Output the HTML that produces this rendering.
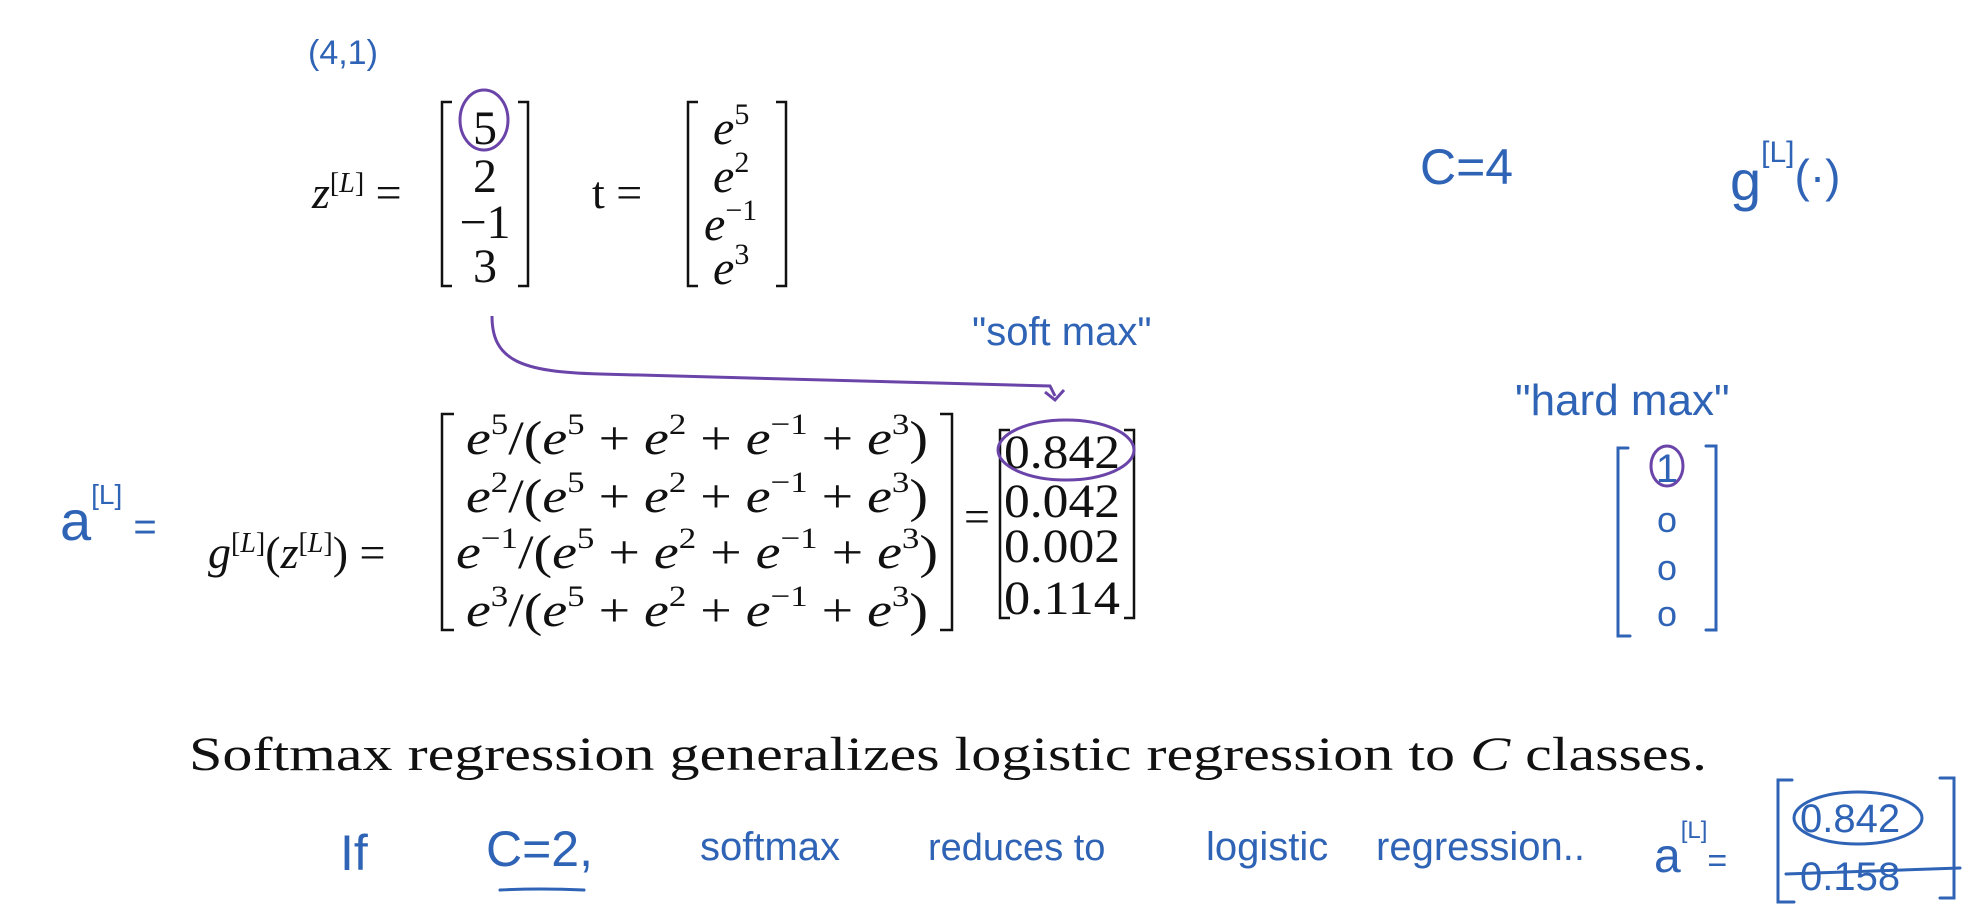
<!DOCTYPE html>
<html><head><meta charset="utf-8"><style>
html,body{margin:0;padding:0;background:#fff;width:1980px;height:922px;overflow:hidden}
svg{display:block}
.m{font-family:"Liberation Serif",serif;fill:#111}
.i{font-style:italic}
.h{font-family:"Liberation Sans",sans-serif;fill:#2f63b5}
.hs{stroke:#2f63b5;fill:none;stroke-width:3;stroke-linecap:round}
.br{stroke:#111;fill:none;stroke-width:2.5}
</style></head><body>
<svg width="1980" height="922" viewBox="0 0 1980 922" xmlns="http://www.w3.org/2000/svg">
<rect width="1980" height="922" fill="#fff"/>
<text class="h" x="308" y="64" font-size="34">(4,1)</text>

<g>
<text class="m" x="312" y="208" font-size="46"><tspan class="i">z</tspan><tspan font-size="28" dy="-16">[</tspan><tspan font-size="28" class="i">L</tspan><tspan font-size="28">]</tspan><tspan dy="16"> =</tspan></text>
<path class="br" d="M452 102 H442 V286 H452 M518 102 H528 V286 H518"/>
<text class="m" font-size="48" text-anchor="middle" x="485" y="144">5</text>
<text class="m" font-size="48" text-anchor="middle" x="485" y="192">2</text>
<text class="m" font-size="48" text-anchor="middle" x="485" y="238">−1</text>
<text class="m" font-size="48" text-anchor="middle" x="485" y="282">3</text>
<ellipse cx="484" cy="120" rx="24" ry="30" fill="none" stroke="#6a44a8" stroke-width="3"/>
</g>

<g>
<text class="m" x="592" y="208" font-size="46">t =</text>
<path class="br" d="M698 102 H688 V286 H698 M776 102 H786 V286 H776"/>
<text class="m i" font-size="48" x="713" y="144">e<tspan font-size="30" dy="-20" font-style="normal">5</tspan></text>
<text class="m i" font-size="48" x="713" y="192">e<tspan font-size="30" dy="-20" font-style="normal">2</tspan></text>
<text class="m i" font-size="48" x="704" y="240">e<tspan font-size="30" dy="-20" font-style="normal">−1</tspan></text>
<text class="m i" font-size="48" x="713" y="284">e<tspan font-size="30" dy="-20" font-style="normal">3</tspan></text>
</g>

<text class="h" x="1420" y="184" font-size="50">C=4</text>
<text class="h" x="1730" y="200" font-size="56">g<tspan font-size="30" dy="-38">[L]</tspan><tspan dy="30" font-size="46">(·)</tspan></text>

<text class="h" x="972" y="345" font-size="40">"soft max"</text>
<path d="M492 316 C492 360 520 372 600 374 L1050 386 L1055 396 M1045 392 L1055 400 L1064 390" stroke="#6a44a8" stroke-width="3" fill="none"/>

<text class="h" x="1515" y="415" font-size="44">"hard max"</text>
<g>
<path class="hs" d="M1628 448 H1618 V636 H1630 M1706 446 H1716 V630 H1706"/>
<text class="h" x="1667" y="482" font-size="40" text-anchor="middle">1</text>
<ellipse cx="1667" cy="466" rx="16" ry="20" fill="none" stroke="#6a44a8" stroke-width="3"/>
<text class="h" x="1667" y="532" font-size="36" text-anchor="middle">o</text>
<text class="h" x="1667" y="580" font-size="36" text-anchor="middle">o</text>
<text class="h" x="1667" y="626" font-size="36" text-anchor="middle">o</text>
</g>

<text class="h" x="60" y="540" font-size="56">a<tspan font-size="28" dy="-36">[L]</tspan><tspan dy="36" font-size="40"> =</tspan></text>
<text class="m" x="208" y="568" font-size="46"><tspan class="i">g</tspan><tspan font-size="28" dy="-16">[</tspan><tspan font-size="28" class="i">L</tspan><tspan font-size="28">]</tspan><tspan dy="16">(</tspan><tspan class="i">z</tspan><tspan font-size="28" dy="-16">[</tspan><tspan font-size="28" class="i">L</tspan><tspan font-size="28">]</tspan><tspan dy="16">) =</tspan></text>

<g>
<path class="br" d="M454 414 H442 V630 H454 M940 414 H952 V630 H940"/>
<text class="m" font-size="48" x="466" y="454" textLength="462" lengthAdjust="spacingAndGlyphs"><tspan class="i">e</tspan><tspan font-size="30" dy="-20">5</tspan><tspan dy="20">/(</tspan><tspan class="i">e</tspan><tspan font-size="30" dy="-20">5</tspan><tspan dy="20"> + </tspan><tspan class="i">e</tspan><tspan font-size="30" dy="-20">2</tspan><tspan dy="20"> + </tspan><tspan class="i">e</tspan><tspan font-size="30" dy="-20">−1</tspan><tspan dy="20"> + </tspan><tspan class="i">e</tspan><tspan font-size="30" dy="-20">3</tspan><tspan dy="20">)</tspan></text>
<text class="m" font-size="48" x="466" y="512" textLength="462" lengthAdjust="spacingAndGlyphs"><tspan class="i">e</tspan><tspan font-size="30" dy="-20">2</tspan><tspan dy="20">/(</tspan><tspan class="i">e</tspan><tspan font-size="30" dy="-20">5</tspan><tspan dy="20"> + </tspan><tspan class="i">e</tspan><tspan font-size="30" dy="-20">2</tspan><tspan dy="20"> + </tspan><tspan class="i">e</tspan><tspan font-size="30" dy="-20">−1</tspan><tspan dy="20"> + </tspan><tspan class="i">e</tspan><tspan font-size="30" dy="-20">3</tspan><tspan dy="20">)</tspan></text>
<text class="m" font-size="48" x="456" y="568" textLength="482" lengthAdjust="spacingAndGlyphs"><tspan class="i">e</tspan><tspan font-size="30" dy="-20">−1</tspan><tspan dy="20">/(</tspan><tspan class="i">e</tspan><tspan font-size="30" dy="-20">5</tspan><tspan dy="20"> + </tspan><tspan class="i">e</tspan><tspan font-size="30" dy="-20">2</tspan><tspan dy="20"> + </tspan><tspan class="i">e</tspan><tspan font-size="30" dy="-20">−1</tspan><tspan dy="20"> + </tspan><tspan class="i">e</tspan><tspan font-size="30" dy="-20">3</tspan><tspan dy="20">)</tspan></text>
<text class="m" font-size="48" x="466" y="626" textLength="462" lengthAdjust="spacingAndGlyphs"><tspan class="i">e</tspan><tspan font-size="30" dy="-20">3</tspan><tspan dy="20">/(</tspan><tspan class="i">e</tspan><tspan font-size="30" dy="-20">5</tspan><tspan dy="20"> + </tspan><tspan class="i">e</tspan><tspan font-size="30" dy="-20">2</tspan><tspan dy="20"> + </tspan><tspan class="i">e</tspan><tspan font-size="30" dy="-20">−1</tspan><tspan dy="20"> + </tspan><tspan class="i">e</tspan><tspan font-size="30" dy="-20">3</tspan><tspan dy="20">)</tspan></text>
</g>
<text class="m" x="964" y="532" font-size="46">=</text>
<g>
<path class="br" d="M1010 430 H1000 V618 H1010 M1124 430 H1134 V618 H1124"/>
<text class="m" font-size="48" x="1004" y="468" textLength="116" lengthAdjust="spacingAndGlyphs">0.842</text>
<text class="m" font-size="48" x="1004" y="517" textLength="116" lengthAdjust="spacingAndGlyphs">0.042</text>
<text class="m" font-size="48" x="1004" y="562" textLength="116" lengthAdjust="spacingAndGlyphs">0.002</text>
<text class="m" font-size="48" x="1004" y="614" textLength="116" lengthAdjust="spacingAndGlyphs">0.114</text>
<ellipse cx="1066" cy="450" rx="68" ry="30" fill="none" stroke="#6a44a8" stroke-width="3"/>
</g>

<text class="m" x="189" y="770" font-size="48" textLength="1518" lengthAdjust="spacingAndGlyphs">Softmax regression generalizes logistic regression to <tspan class="i">C</tspan> classes.</text>

<g>
<text class="h" x="340" y="870" font-size="50">If</text>
<text class="h" x="486" y="866" font-size="50">C=2,</text>
<path class="hs" d="M500 890 Q540 888 584 890"/>
<text class="h" x="700" y="860" font-size="40">softmax</text>
<text class="h" x="928" y="860" font-size="38">reduces to</text>
<text class="h" x="1206" y="860" font-size="40">logistic</text>
<text class="h" x="1376" y="860" font-size="40">regression..</text>
<text class="h" x="1654" y="872" font-size="48">a<tspan font-size="24" dy="-34">[L]</tspan><tspan dy="34" font-size="34">=</tspan></text>
<path class="hs" d="M1792 780 H1778 V902 H1794 M1940 778 H1954 V898 H1940"/>
<text class="h" x="1800" y="832" font-size="40">0.842</text>
<ellipse cx="1858" cy="818" rx="64" ry="26" fill="none" stroke="#2f63b5" stroke-width="3"/>
<text class="h" x="1800" y="890" font-size="40">0.158</text>
<path class="hs" d="M1786 874 L1960 868"/>
</g>
</svg>
</body></html>
